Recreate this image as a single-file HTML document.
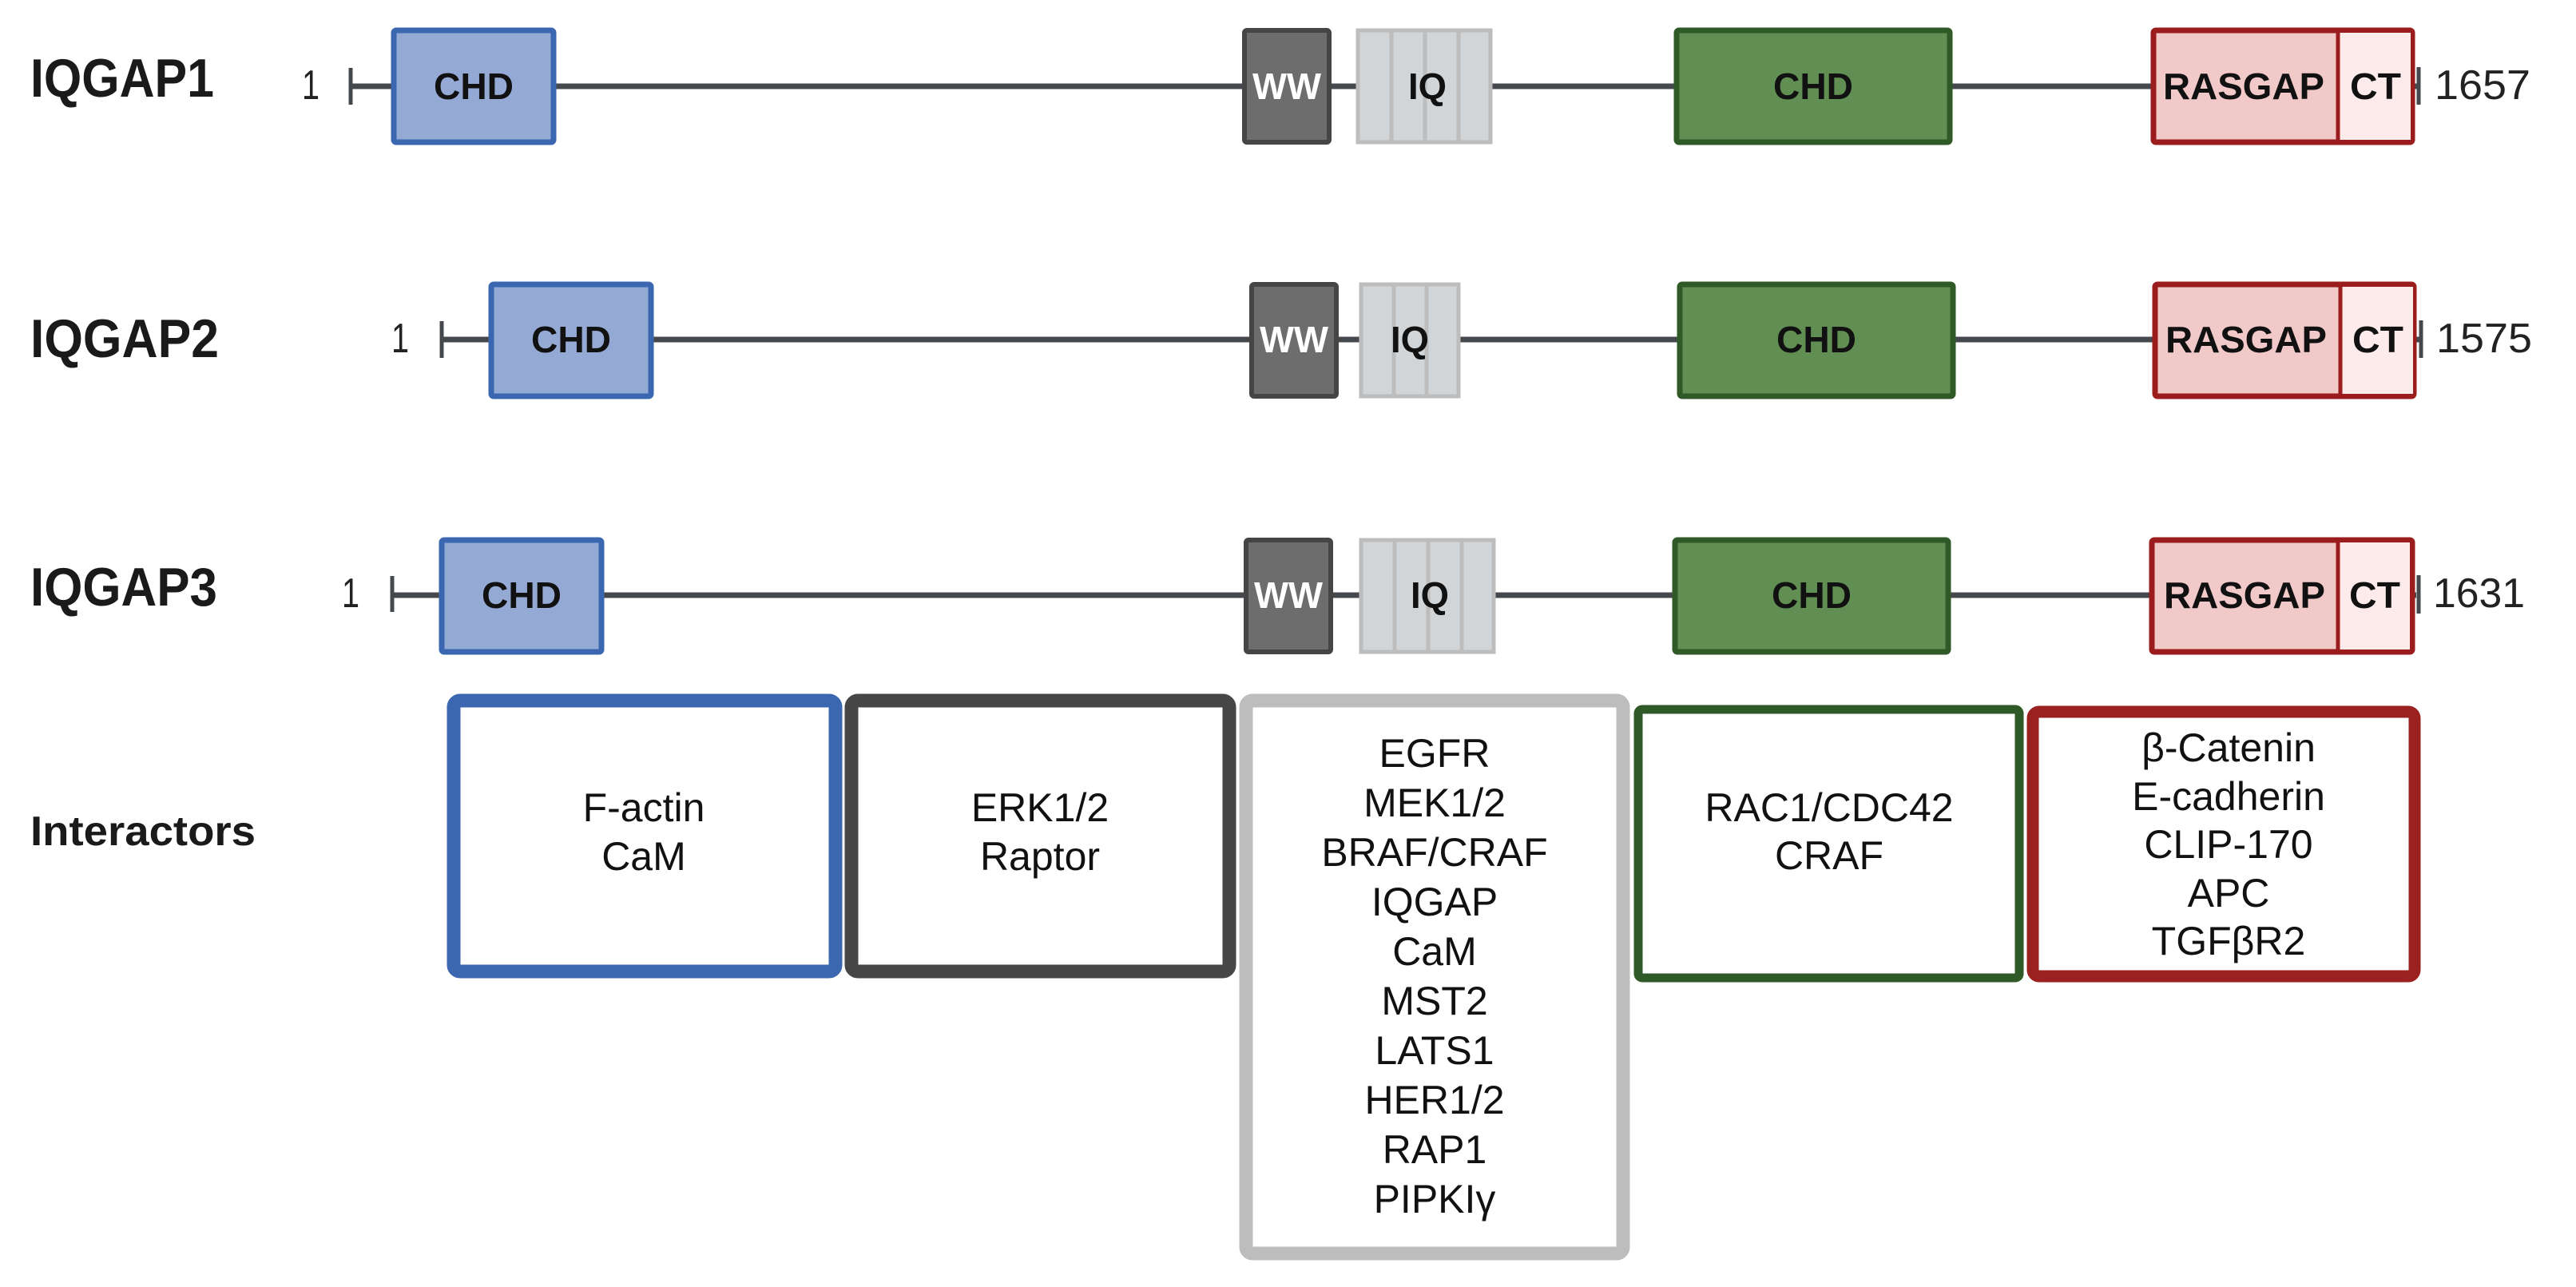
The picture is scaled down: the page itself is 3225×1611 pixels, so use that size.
<!DOCTYPE html>
<html><head><meta charset="utf-8"><style>html,body{margin:0;padding:0;background:#fff}svg{display:block}</style></head><body>
<svg width="3225" height="1611" viewBox="0 0 3225 1611" xmlns="http://www.w3.org/2000/svg" font-family="Liberation Sans, sans-serif">
<rect width="3225" height="1611" fill="#fff"/>
<g font-weight="bold" fill="#1a1a1a" font-size="68">
<text x="38" y="121" textLength="230" lengthAdjust="spacingAndGlyphs">IQGAP1</text>
<text x="38" y="447" textLength="236" lengthAdjust="spacingAndGlyphs">IQGAP2</text>
<text x="38" y="758" textLength="234" lengthAdjust="spacingAndGlyphs">IQGAP3</text>
<text x="38" y="1058" font-size="52" textLength="282" lengthAdjust="spacingAndGlyphs">Interactors</text>
</g>
<!-- Row 1 -->
<g>
<line x1="439" y1="108" x2="3027" y2="108" stroke="#45484c" stroke-width="7"/>
<line x1="439" y1="85" x2="439" y2="131" stroke="#45484c" stroke-width="5"/>
<line x1="3028" y1="84" x2="3028" y2="131" stroke="#45484c" stroke-width="5"/>
<text x="378" y="124" font-size="52" fill="#222" textLength="22" lengthAdjust="spacingAndGlyphs">1</text>
<text x="3048" y="124" font-size="52" fill="#222" textLength="120" lengthAdjust="spacingAndGlyphs">1657</text>
<rect x="493" y="38" width="200" height="140" rx="3" fill="#94a9d4" stroke="#3a67b0" stroke-width="7"/>
<rect x="1558" y="38" width="106" height="140" rx="3" fill="#6d6d6d" stroke="#454545" stroke-width="6"/>
<rect x="1700" y="38" width="166" height="140" fill="#d2d5d8" stroke="#bdbdbd" stroke-width="5"/>
<line x1="1742" y1="38" x2="1742" y2="178" stroke="#bdbdbd" stroke-width="5"/>
<line x1="1784" y1="38" x2="1784" y2="178" stroke="#bdbdbd" stroke-width="5"/>
<line x1="1826" y1="38" x2="1826" y2="178" stroke="#bdbdbd" stroke-width="5"/>
<rect x="2099" y="38" width="342" height="140" rx="3" fill="#618e53" stroke="#2f5a27" stroke-width="7"/>
<rect x="2696" y="38" width="324" height="140" rx="3" fill="#f2c9c9" stroke="#9b1c1c" stroke-width="7"/>
<rect x="2928" y="41" width="90" height="134" fill="#fdeaea"/>
<line x1="2927" y1="38" x2="2927" y2="178" stroke="#9b1c1c" stroke-width="5"/>
</g>
<!-- Row 2 -->
<g>
<line x1="553" y1="425" x2="3030" y2="425" stroke="#45484c" stroke-width="7"/>
<line x1="553" y1="402" x2="553" y2="448" stroke="#45484c" stroke-width="5"/>
<line x1="3031" y1="401" x2="3031" y2="448" stroke="#45484c" stroke-width="5"/>
<text x="490" y="441" font-size="52" fill="#222" textLength="22" lengthAdjust="spacingAndGlyphs">1</text>
<text x="3050" y="441" font-size="52" fill="#222" textLength="120" lengthAdjust="spacingAndGlyphs">1575</text>
<rect x="615" y="356" width="200" height="140" rx="3" fill="#94a9d4" stroke="#3a67b0" stroke-width="7"/>
<rect x="1567" y="356" width="106" height="140" rx="3" fill="#6d6d6d" stroke="#454545" stroke-width="6"/>
<rect x="1704" y="356" width="122" height="140" fill="#d2d5d8" stroke="#bdbdbd" stroke-width="5"/>
<line x1="1745" y1="356" x2="1745" y2="496" stroke="#bdbdbd" stroke-width="5"/>
<line x1="1786" y1="356" x2="1786" y2="496" stroke="#bdbdbd" stroke-width="5"/>
<rect x="2103" y="356" width="342" height="140" rx="3" fill="#618e53" stroke="#2f5a27" stroke-width="7"/>
<rect x="2698" y="356" width="324" height="140" rx="3" fill="#f2c9c9" stroke="#9b1c1c" stroke-width="7"/>
<rect x="2931" y="359" width="90" height="134" fill="#fdeaea"/>
<line x1="2930" y1="356" x2="2930" y2="496" stroke="#9b1c1c" stroke-width="5"/>
</g>
<!-- Row 3 -->
<g>
<line x1="491" y1="745" x2="3025" y2="745" stroke="#45484c" stroke-width="7"/>
<line x1="491" y1="721" x2="491" y2="766" stroke="#45484c" stroke-width="5"/>
<line x1="3028" y1="720" x2="3028" y2="768" stroke="#45484c" stroke-width="5"/>
<text x="428" y="760" font-size="52" fill="#222" textLength="22" lengthAdjust="spacingAndGlyphs">1</text>
<text x="3046" y="760" font-size="52" fill="#222" textLength="115" lengthAdjust="spacingAndGlyphs">1631</text>
<rect x="553" y="676" width="200" height="140" rx="3" fill="#94a9d4" stroke="#3a67b0" stroke-width="7"/>
<rect x="1560" y="676" width="106" height="140" rx="3" fill="#6d6d6d" stroke="#454545" stroke-width="6"/>
<rect x="1704" y="676" width="166" height="140" fill="#d2d5d8" stroke="#bdbdbd" stroke-width="5"/>
<line x1="1746" y1="676" x2="1746" y2="816" stroke="#bdbdbd" stroke-width="5"/>
<line x1="1788" y1="676" x2="1788" y2="816" stroke="#bdbdbd" stroke-width="5"/>
<line x1="1830" y1="676" x2="1830" y2="816" stroke="#bdbdbd" stroke-width="5"/>
<rect x="2097" y="676" width="342" height="140" rx="3" fill="#618e53" stroke="#2f5a27" stroke-width="7"/>
<rect x="2694" y="676" width="326" height="140" rx="3" fill="#f2c9c9" stroke="#9b1c1c" stroke-width="7"/>
<rect x="2928" y="679" width="89" height="134" fill="#fdeaea"/>
<line x1="2927" y1="676" x2="2927" y2="816" stroke="#9b1c1c" stroke-width="5"/>
</g>
<!-- domain labels -->
<g font-weight="bold" font-size="46" text-anchor="middle" fill="#111">
<text x="593" y="124" textLength="100" lengthAdjust="spacingAndGlyphs">CHD</text>
<text x="715" y="441" textLength="100" lengthAdjust="spacingAndGlyphs">CHD</text>
<text x="653" y="761" textLength="100" lengthAdjust="spacingAndGlyphs">CHD</text>
<text x="1611" y="124" fill="#fff" textLength="86" lengthAdjust="spacingAndGlyphs">WW</text>
<text x="1620" y="441" fill="#fff" textLength="86" lengthAdjust="spacingAndGlyphs">WW</text>
<text x="1613" y="761" fill="#fff" textLength="86" lengthAdjust="spacingAndGlyphs">WW</text>
<text x="1787" y="124" textLength="48" lengthAdjust="spacingAndGlyphs">IQ</text>
<text x="1765" y="441" textLength="48" lengthAdjust="spacingAndGlyphs">IQ</text>
<text x="1790" y="761" textLength="48" lengthAdjust="spacingAndGlyphs">IQ</text>
<text x="2270" y="124" textLength="100" lengthAdjust="spacingAndGlyphs">CHD</text>
<text x="2274" y="441" textLength="100" lengthAdjust="spacingAndGlyphs">CHD</text>
<text x="2268" y="761" textLength="100" lengthAdjust="spacingAndGlyphs">CHD</text>
<text x="2809" y="124" textLength="202" lengthAdjust="spacingAndGlyphs">RASGAP</text>
<text x="2812" y="441" textLength="202" lengthAdjust="spacingAndGlyphs">RASGAP</text>
<text x="2810" y="761" textLength="202" lengthAdjust="spacingAndGlyphs">RASGAP</text>
<text x="2974" y="124" textLength="64" lengthAdjust="spacingAndGlyphs">CT</text>
<text x="2977" y="441" textLength="64" lengthAdjust="spacingAndGlyphs">CT</text>
<text x="2973" y="761" textLength="64" lengthAdjust="spacingAndGlyphs">CT</text>
</g>
<!-- Interactor boxes -->
<rect x="568" y="877" width="478" height="339" rx="8" fill="#fff" stroke="#3a67b0" stroke-width="17"/>
<rect x="1066" y="877" width="473" height="339" rx="8" fill="#fff" stroke="#464646" stroke-width="17"/>
<rect x="1560" y="877" width="472" height="692" rx="8" fill="#fff" stroke="#bdbdbd" stroke-width="17"/>
<rect x="2051" y="888" width="477" height="336" rx="5" fill="#fff" stroke="#2f5a27" stroke-width="11"/>
<rect x="2545" y="891" width="478" height="331" rx="8" fill="#fff" stroke="#9b2020" stroke-width="15"/>
<g font-size="50" text-anchor="middle" fill="#111">
<text x="806" y="1028">F-actin</text>
<text x="806" y="1089">CaM</text>
<text x="1302" y="1028">ERK1/2</text>
<text x="1302" y="1089">Raptor</text>
<text x="1796" y="960">EGFR</text>
<text x="1796" y="1022">MEK1/2</text>
<text x="1796" y="1084">BRAF/CRAF</text>
<text x="1796" y="1146">IQGAP</text>
<text x="1796" y="1208">CaM</text>
<text x="1796" y="1270">MST2</text>
<text x="1796" y="1332">LATS1</text>
<text x="1796" y="1394">HER1/2</text>
<text x="1796" y="1456">RAP1</text>
<text x="1796" y="1518">PIPKIγ</text>
<text x="2290" y="1028">RAC1/CDC42</text>
<text x="2290" y="1088">CRAF</text>
<text x="2790" y="953">β-Catenin</text>
<text x="2790" y="1014">E-cadherin</text>
<text x="2790" y="1074">CLIP-170</text>
<text x="2790" y="1135">APC</text>
<text x="2790" y="1195">TGFβR2</text>
</g>
</svg>
</body></html>
